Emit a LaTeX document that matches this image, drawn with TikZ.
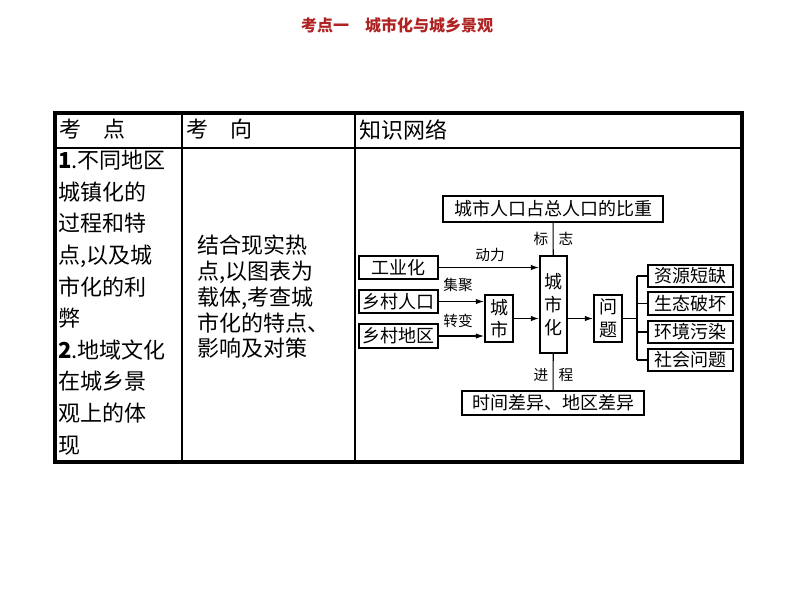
\documentclass[tikz,border=0pt]{standalone}
\usepackage{fontspec}
\setmainfont{Liberation Serif}
\newfontfamily\cjk{Noto Sans CJK SC}
\usetikzlibrary{arrows.meta}
\definecolor{titlered}{RGB}{175,35,35}
\tikzset{
 bx/.style={draw,line width=1.6pt,inner sep=0pt,font=\cjk\fontsize{13.5}{15}\selectfont},
 vbx/.style={bx,align=center,font=\cjk\fontsize{13.5}{17}\selectfont},
 lbl/.style={inner sep=0pt,font=\cjk\fontsize{11}{13}\selectfont},
 arr/.style={line width=0.8pt,-{Latex[length=6pt,width=4pt]}},
 ln/.style={line width=0.8pt},
 cell/.style={inner sep=0pt,anchor=north west,align=left}
}
\begin{document}
\begin{tikzpicture}[x=0.75pt,y=-0.75pt]
\useasboundingbox (0,0) rectangle (794,596);
\node[font=\cjk\bfseries\fontsize{12}{14}\selectfont,text=titlered] (title) at (397,25) {考点一\quad 城市化与城乡景观};
% table
\draw[line width=2.5pt] (55,113) rectangle (742,462);
\draw[line width=1pt] (55,148) -- (742,148) (182,113) -- (182,462) (355,113) -- (355,462);
\node[cell,font=\cjk\fontsize{16.5}{20}\selectfont] (h1) at (59,119) {考\quad 点};
\node[cell,font=\cjk\fontsize{16.5}{20}\selectfont] (h2) at (186,119) {考\quad 向};
\node[cell,font=\cjk\fontsize{16.5}{20}\selectfont] (h3) at (359,119) {知识网络};
\node[cell,font=\cjk\fontsize{16.5}{23.7}\selectfont] (c1) at (58,150) {\textbf{1}.不同地区\\城镇化的\\过程和特\\点,以及城\\市化的利\\弊\\\textbf{2}.地域文化\\在城乡景\\观上的体\\现};
\node[cell,font=\cjk\fontsize{16.5}{19.3}\selectfont] (c2) at (197,235) {结合现实热\\点,以图表为\\载体,考查城\\市化的特点、\\影响及对策};
% diagram
\node[bx,minimum width=165pt,minimum height=19.5pt] (bz) at (553,209) {城市人口占总人口的比重};
\node[vbx,minimum width=20.25pt,minimum height=72.75pt] (csh) at (553.5,304.5) {城\\市\\化};
\node[bx,minimum width=59.25pt,minimum height=17.25pt] (gy) at (398.5,267.5) {工业化};
\node[bx,minimum width=59.25pt,minimum height=17.25pt] (xr) at (398.5,301.5) {乡村人口};
\node[bx,minimum width=59.25pt,minimum height=18pt] (xd) at (398.5,336) {乡村地区};
\node[vbx,minimum width=21pt,minimum height=35.25pt] (cs) at (499,318.5) {城\\市};
\node[vbx,minimum width=21pt,minimum height=35.25pt] (wt) at (608,318.5) {问\\题};
\node[bx,minimum width=63.75pt,minimum height=16.5pt] (r1) at (690.5,276) {资源短缺};
\node[bx,minimum width=63.75pt,minimum height=17.25pt] (r2) at (690.5,303.5) {生态破坏};
\node[bx,minimum width=63.75pt,minimum height=16.5pt] (r3) at (690.5,332) {环境污染};
\node[bx,minimum width=63.75pt,minimum height=16.5pt] (r4) at (690.5,360) {社会问题};
\node[bx,minimum width=136.5pt,minimum height=18pt] (sj) at (553,403) {时间差异、地区差异};
\draw[ln] (bz) -- (csh);
\draw[ln] (csh) -- (sj);
\node[lbl] (l1) at (541,239) {标};
\node[lbl] (l2) at (566,239) {志};
\node[lbl] (l3) at (541,375) {进};
\node[lbl] (l4) at (566,375) {程};
\draw[arr] (gy.east) -- (gy.east -| csh.west);
\node[lbl] (dl) at (490,255) {动力};
\draw[arr] (xr.east) -- (xr.east -| cs.west);
\node[lbl] (jj) at (458,285) {集聚};
\draw[arr] (xd.east) -- (xd.east -| cs.west);
\node[lbl] (zb) at (458,321) {转变};
\draw[arr] (cs.east) -- (cs.east -| csh.west);
\draw[arr] (csh.east |- wt.west) -- (wt.west);
\coordinate (br) at (637,318.5);
\draw[ln] (wt.east) -- (br);
\draw[ln] (br |- r1.west) -- (br |- r4.west);
\foreach \r in {r1,r2,r3,r4} \draw[ln] (br |- \r.west) -- (\r.west);
\end{tikzpicture}
\end{document}
